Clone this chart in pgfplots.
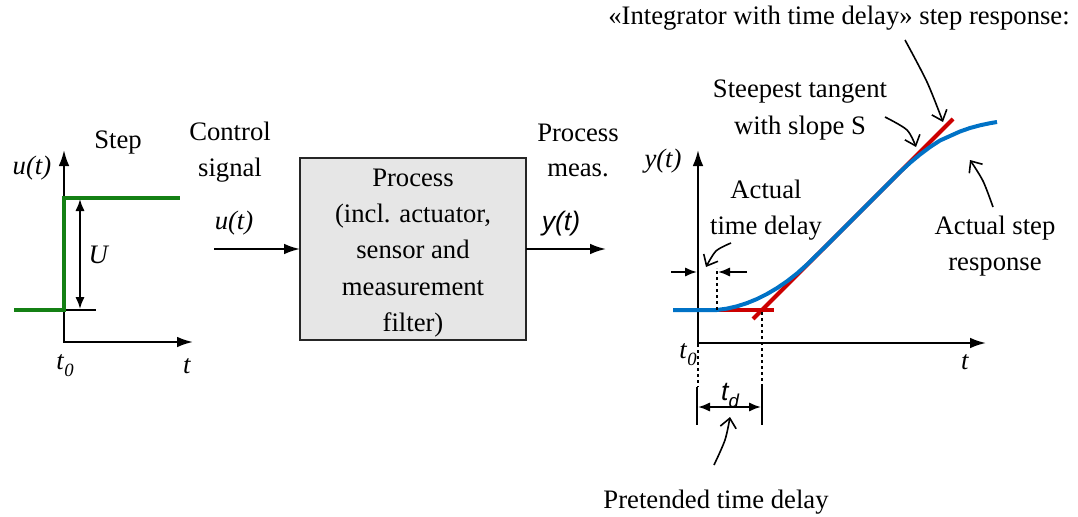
\documentclass[border=0pt]{standalone}
\usepackage{fontspec}
\setmainfont{Liberation Serif}
\setsansfont{Liberation Sans}
\usepackage{pgfplots}
\pgfplotsset{compat=1.18}
\usetikzlibrary{arrows.meta}
\definecolor{stepgreen}{RGB}{20,128,20}
\definecolor{tanred}{RGB}{204,0,0}
\definecolor{respblue}{RGB}{0,114,198}
\definecolor{boxgray}{RGB}{230,230,230}
\newcommand{\sub}[1]{\raisebox{-0.28em}{\fontsize{14}{14}\selectfont\textit{#1}}}
\begin{document}
\begin{tikzpicture}[every node/.style={font=\rmfamily\fontsize{20}{27}\selectfont, inner sep=0pt, anchor=base}]
\begin{axis}[scale only axis, width=808.5pt, height=387.75pt,
  xmin=0, xmax=1078, ymin=0, ymax=517, y dir=reverse, hide axis, clip=false,
  ax/.style={black, line width=1.5pt, -{Latex[length=12pt,width=8pt]}},
  sm/.style={black, line width=1.5pt, -{Latex[length=9pt,width=7pt]}},
  dbl/.style={black, line width=1.5pt, {Latex[length=9pt,width=7pt]}-{Latex[length=9pt,width=7pt]}},
  thinline/.style={black, line width=1.1pt},
  dots/.style={black, line width=1.1pt, dash pattern=on 2pt off 2.5pt},
  curv/.style={black, line width=1.2pt, smooth, -{Straight Barb[length=7pt,width=12pt]}},
]
\path (axis cs:0,0) rectangle (axis cs:1078,517);
% ---------- left graph ----------
\addplot[ax] coordinates {(64,342) (64,150)};
\addplot[ax] coordinates {(63,342) (193,342)};
\addplot[thinline] coordinates {(64,310) (96,310)};
\addplot[stepgreen, line width=3pt] coordinates {(14,310) (64,310) (64,198) (180,198)};
\addplot[dbl] coordinates {(80,199) (80,309)};
\node at (axis cs:99,263) {\textit{U}};
\node at (axis cs:32,174) {\textit{u(t)}};
\node at (axis cs:118,148) {Step};
\node at (axis cs:65,369) {\textit{t}\sub{0}};
\node at (axis cs:187,373) {\textit{t}};
% ---------- control signal ----------
\node at (axis cs:230,140) {Control};
\node at (axis cs:230,176) {signal};
\node at (axis cs:234,229) {\textit{u(t)}};
\addplot[ax] coordinates {(214,249) (300,249)};
% ---------- process box ----------
\addplot[fill=boxgray, draw=black!85, line width=1.1pt] coordinates {(300,158) (526,158) (526,340) (300,340)} --cycle;
\node at (axis cs:413,186) {Process};
\node at (axis cs:413,222) {(incl. actuator,};
\node at (axis cs:413,258) {sensor and};
\node at (axis cs:413,295) {measurement};
\node at (axis cs:413,331) {filter)};
\node at (axis cs:578,141) {Process};
\node at (axis cs:578,176) {meas.};
\node at (axis cs:561,230) {\sffamily\itshape y(t)};
\addplot[ax] coordinates {(526,249) (606,249)};
% ---------- right graph ----------
\node at (axis cs:839,25) {«Integrator with time delay» step response:};
\addplot[ax] coordinates {(698,343) (698,150)};
\addplot[ax] coordinates {(697,343) (986,343)};
\node at (axis cs:663,167) {\textit{y(t)}};
\node at (axis cs:965,369) {\textit{t}};
\node at (axis cs:688,358) {\textit{t}\sub{0}};
% red tangent and flat line
\addplot[tanred, line width=3pt] coordinates {(717,310) (774,310)};
\addplot[tanred, line width=3pt] coordinates {(753,319) (953,119)};
% blue response
\addplot[respblue, line width=3pt, line join=round] coordinates {
(673,310) (717,310) (727,308.6) (737,306.3) (747,303.1) (757,299.0) (767,294.0)
(777,288.1) (787,281.3) (797,273.5) (807,264.6) (817,254.8) (827,245) (850,222)
(870,202) (890,182) (900,172) (910,162.8) (920,154.5) (930,147) (940,140.5)
(950,136) (960,131.5) (970,128) (980,125.3) (990,123.2) (997,122)};
% delays
\addplot[dots] coordinates {(717,310) (717,268)};
\addplot[sm] coordinates {(671,272) (697,272)};
\addplot[sm] coordinates {(747,272) (718,272)};
\addplot[dots] coordinates {(698,344) (698,387)};
\addplot[dots] coordinates {(762,312) (762,387)};
\addplot[thinline] coordinates {(697,387) (697,425)};
\addplot[thinline] coordinates {(762,387) (762,425)};
\addplot[dbl] coordinates {(698,407) (761,407)};
\node at (axis cs:730,400) {\sffamily\itshape t\raisebox{-0.28em}{\fontsize{14}{14}\selectfont d}};
\node at (axis cs:716,508) {Pretended time delay};
\node at (axis cs:766,198) {Actual};
\node at (axis cs:766,234) {time delay};
\node at (axis cs:800,98) {Steepest tangent};
\node at (axis cs:800,134) {with slope S};
\node at (axis cs:995,234) {Actual step};
\node at (axis cs:995,270) {response};
% curved annotation arrows
\addplot[curv] coordinates {(905,40) (927,82) (943,122)};
\addplot[curv] coordinates {(885,117) (907,130) (916,147)};
\addplot[curv] coordinates {(993,207) (983,181) (970,160)};
\addplot[curv] coordinates {(731,243) (716,251) (706,267)};
\addplot[curv] coordinates {(714,465) (725,440) (730,417)};
\end{axis}
\end{tikzpicture}
\end{document}
